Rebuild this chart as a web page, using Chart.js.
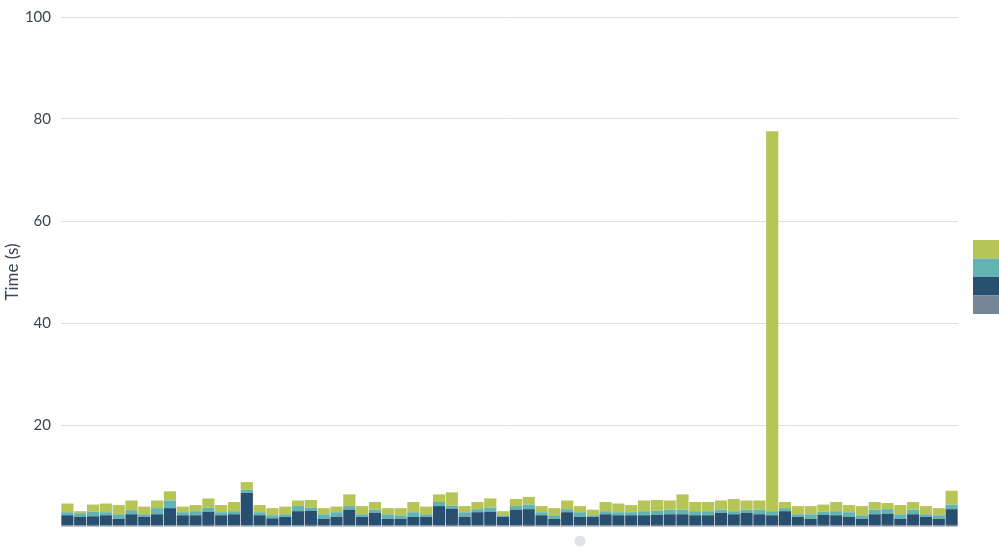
<!DOCTYPE html>
<html>
<head>
<meta charset="utf-8">
<script src="https://cdn.jsdelivr.net/npm/chart.js@4.4.1/dist/chart.umd.min.js"></script>
<style>
  html, body { margin: 0; padding: 0; background: #fff; }
  #wrap { width: 999px; height: 559px; position: relative; }
</style>
</head>
<body>
<div id="wrap"><canvas id="timeChart" width="999" height="559"></canvas></div>
<script>
// one bar per run, 70 runs
var runs = [];
for (var i = 1; i <= 70; i++) runs.push('Run ' + i);

var yTicks = [0, 20, 40, 60, 80, 100];

var grayPart = [0.3,0.3,0.4,0.3,0.3,0.3,0.3,0.3,0.3,0.3,0.3,0.4,0.3,0.3,0.3,0.3,0.3,0.3,0.3,0.4,
  0.3,0.3,0.3,0.3,0.3,0.3,0.3,0.3,0.3,0.3,0.4,0.3,0.3,0.4,0.3,0.3,0.4,0.3,0.3,0.3,
  0.3,0.3,0.3,0.3,0.3,0.3,0.4,0.3,0.3,0.3,0.3,0.3,0.3,0.3,0.3,0.3,0.3,0.3,0.3,0.4,
  0.3,0.3,0.3,0.3,0.4,0.3,0.3,0.3,0.3,0.4];

var navyPart = [2.0,1.7,1.7,2.0,1.3,2.2,1.7,2.2,3.4,2.0,2.0,2.6,2.0,2.2,6.4,2.0,1.4,1.7,2.8,2.8,
  1.3,1.7,3.1,1.7,2.5,1.3,1.3,1.7,1.7,3.8,3.2,1.7,2.6,2.6,1.7,3.1,3.1,2.0,1.3,2.6,
  1.7,1.7,2.2,2.0,2.0,2.0,2.0,2.2,2.2,2.0,2.0,2.5,2.2,2.5,2.2,2.0,2.8,1.7,1.3,2.0,
  2.0,1.7,1.3,2.2,2.2,1.3,2.2,1.7,1.3,3.1];

var tealPart = [0.6,0.7,0.9,0.6,0.9,0.8,0.5,1.2,1.5,0.6,0.8,0.8,0.6,0.6,0.6,0.6,0.6,0.5,1.0,0.6,
  0.9,0.9,0.7,0.5,0.6,0.9,0.7,0.9,0.5,0.8,0.6,0.9,0.6,0.8,0.3,0.7,0.9,0.6,0.7,0.6,
  0.9,0.3,0.6,0.6,0.6,0.8,0.8,0.9,0.9,0.8,0.8,0.6,0.6,0.6,0.9,0.8,0.6,0.5,0.9,0.6,
  0.8,0.9,0.7,0.9,0.9,0.9,0.9,0.5,0.7,0.9];

var greenPart = [1.7,0.4,1.4,1.7,1.8,1.9,1.5,1.5,1.8,1.1,1.2,1.8,1.4,1.8,1.5,1.4,1.4,1.5,1.1,1.5,
  1.2,1.1,2.3,1.6,1.5,1.2,1.4,2.0,1.5,1.5,2.6,1.2,1.4,1.8,0.8,1.4,1.5,1.2,1.4,1.7,
  1.2,1.1,1.8,1.7,1.4,2.1,2.1,1.8,3.0,1.8,1.8,1.8,2.4,1.8,1.8,74.5,1.2,1.6,1.6,1.4,
  1.8,1.4,1.8,1.5,1.2,1.8,1.5,1.6,1.4,2.7];

var colors = {
  gray: '#738796',
  navy: '#294f70',
  teal: '#62b3b2',
  green: '#b6c556'
};

function series(label, data, color) {
  return {
    label: label,
    data: data,
    backgroundColor: color,
    borderWidth: 0,
    barPercentage: 0.95,
    categoryPercentage: 1.0
  };
}

// legend drawn as plain swatches on the right, top item = top of stack
var swatchLegend = {
  id: 'swatchLegend',
  afterDraw: function (chart) {
    var ctx = chart.ctx;
    var sets = chart.data.datasets.slice().reverse();
    var x = 973, y = 240, w = 26, h = 18.5;
    ctx.save();
    sets.forEach(function (ds, k) {
      ctx.fillStyle = ds.backgroundColor;
      ctx.fillRect(x, y + k * h, w, h);
    });
    // little pager dot under the bars
    ctx.fillStyle = '#dfe4ea';
    ctx.beginPath();
    ctx.arc(580, 541, 5.5, 0, Math.PI * 2);
    ctx.fill();
    ctx.restore();
  }
};

var ctx = document.getElementById('timeChart');
var myChart = new Chart(ctx, {
  type: 'bar',
  data: {
    labels: runs,
    datasets: [
      series('Queue', grayPart, colors.gray),
      series('Setup', navyPart, colors.navy),
      series('Transfer', tealPart, colors.teal),
      series('Processing', greenPart, colors.green)
    ]
  },
  options: {
    responsive: false,
    animation: false,
    layout: { padding: { top: 17, right: 41, bottom: 32, left: 0 } },
    plugins: {
      legend: { display: false },
      tooltip: { enabled: false }
    },
    scales: {
      x: {
        stacked: true,
        display: false
      },
      y: {
        stacked: true,
        min: 0,
        max: 100,
        afterBuildTicks: function (scale) {
          scale.ticks = yTicks.map(function (v) { return { value: v }; });
        },
        afterFit: function (scale) {
          scale.width = 61;
          scale.paddingTop = 0;
          scale.paddingBottom = 0;
        },
        border: { display: false },
        grid: {
          color: function (c) { return c.tick.value === 0 ? 'rgba(0,0,0,0)' : '#dde1e6'; },
          lineWidth: 1,
          drawTicks: false
        },
        ticks: {
          padding: 10,
          color: '#3b4450',
          font: { family: 'Lato', size: 15 },
          callback: function (v) { return v === 0 ? '' : v; }
        },
        title: {
          display: true,
          text: 'Time (s)',
          color: '#3b4450',
          font: { family: 'Lato', size: 17 },
          padding: { top: 2, bottom: 0 }
        }
      }
    }
  },
  plugins: [swatchLegend]
});
</script>
</body>
</html>
